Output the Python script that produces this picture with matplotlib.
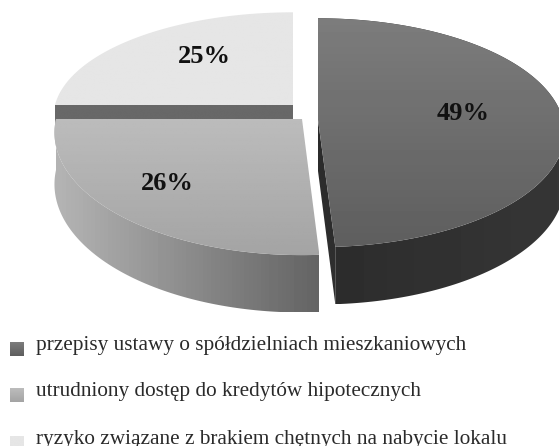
import numpy as np
import matplotlib
matplotlib.use("Agg")
import matplotlib.pyplot as plt
from matplotlib.patches import Polygon

# Datos del grafico
etiquetas = ["przepisy ustawy o spółdzielniach mieszkaniowych",
             "utrudniony dostęp do kredytów hipotecznych",
             "ryzyko związane z brakiem chętnych na nabycie lokalu"]
valores = [49, 26, 25]

# Estilo y posicion de cada porcion
apex = [(318, 120), (302, 119), (293, 105)]
radio_x = [245, 246, 238]
radio_y = [113, 121, 103]
tapa = [("#7c7c7c", "#5e5e5e"), ("#bcbcbc", "#a4a4a4"), ("#e6e6e6", "#e6e6e6")]
lado = [("#2c2c2c", "#363636"), ("#b4b4b4", "#646464")]
pos_texto = [(463, 114), (167.5, 184), (204, 56.5)]
y_leyenda = [350, 396, 444]

A = 1 / 9
DEPTH = 51
W, H = 559, 446

plt.rcParams["font.family"] = ["Liberation Serif", "DejaVu Serif"]
fig = plt.figure(figsize=(W / 100, H / 100), dpi=100)
ax = fig.add_axes([0, 0, 1, 1])
ax.set_axis_off()


def punto(i, ang, r=1.0, z=0.0):
    # angulo medido desde arriba, en sentido horario, con perspectiva
    u = radio_x[i] * r * np.sin(ang)
    v = r * np.cos(ang)
    f = 1 / (1 + A * v)
    return apex[i][0] + u * f, apex[i][1] - radio_y[i] * v * f + z * DEPTH * f


def gris(h):
    return int(h[1:3], 16) / 255


def relleno(verts, c0, c1, vertical=True):
    # gradiente recortado con el poligono
    g = np.linspace(gris(c0), gris(c1), 64)
    g = g.reshape(-1, 1) if vertical else g.reshape(1, -1)
    verts = np.array(verts)
    ext = (verts[:, 0].min(), verts[:, 0].max(), verts[:, 1].max(), verts[:, 1].min())
    im = ax.imshow(g, cmap="gray", vmin=0, vmax=1, extent=ext, aspect="auto", zorder=orden[0])
    im.set_clip_path(Polygon(verts, closed=True, transform=ax.transData))
    orden[0] += 1


orden = [1]
fracciones = np.cumsum([0] + valores) / sum(valores) * 2 * np.pi

# Banda oscura bajo la porcion clara
a_claro = fracciones[2]
banda = [punto(2, a_claro, 0), punto(2, a_claro), punto(2, a_claro, 1, 0.4), punto(2, a_claro, 0, 0.4)]
relleno(banda, "#686868", "#686868")
ang = np.linspace(fracciones[2], fracciones[3], 120)
relleno([apex[2]] + [punto(2, a) for a in ang], *tapa[2])

# Porcion media
ang = np.linspace(fracciones[1], fracciones[2], 120)
rim = [punto(1, a) for a in ang]
relleno(rim + [punto(1, a, 1, 1) for a in ang[::-1]], lado[1][0], lado[1][1], vertical=False)
relleno([apex[1]] + rim, *tapa[1])

# Porcion grande, con su cara radial
ang = np.linspace(fracciones[0], fracciones[1], 160)
rim = [punto(0, a) for a in ang]
a1 = fracciones[1]
relleno([punto(0, a1, 0), punto(0, a1), punto(0, a1, 1, 1), punto(0, a1, 0, 1)], "#2a2a2a", "#303030")
relleno(rim + [punto(0, a, 1, 1) for a in ang[::-1]], lado[0][0], lado[0][1], vertical=False)
relleno([apex[0]] + rim, *tapa[0])

for v, p in zip(valores, pos_texto):
    ax.text(p[0], p[1], f"{v}%", ha="center", va="center", fontsize=19,
            fontweight="bold", color="#111111", zorder=50)

# Leyenda
for i, (txt, y) in enumerate(zip(etiquetas, y_leyenda)):
    cuadro = [(10, y - 8), (23.5, y - 8), (23.5, y + 6), (10, y + 6)]
    relleno(cuadro, tapa[i][0], tapa[i][1])
    ax.text(36, y, txt, ha="left", va="baseline", fontsize=15.35, color="#2a2a2a", zorder=50)

ax.set_xlim(0, W)
ax.set_ylim(H, 0)
fig.savefig("out.png", dpi=100, facecolor="white")
